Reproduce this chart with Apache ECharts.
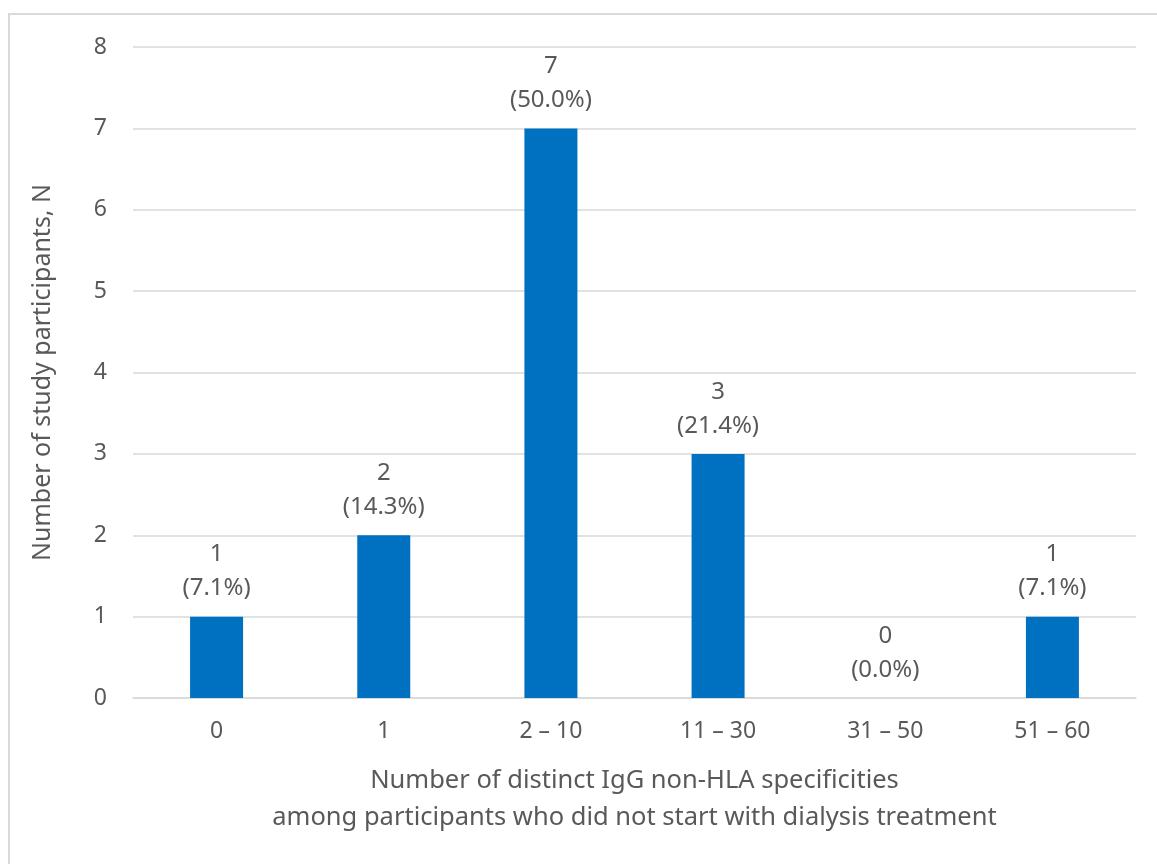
<!DOCTYPE html>
<html>
<head>
<meta charset="utf-8">
<script src="https://cdn.jsdelivr.net/npm/echarts@6/dist/echarts.min.js"></script>
<style>
  html, body { margin: 0; padding: 0; background: #fff; }
  #frame {
    position: absolute; left: 8px; top: 13px; width: 1160px; height: 860px;
    border-top: 2px solid #d9d9d9; border-left: 2px solid #d9d9d9;
  }
  #chart { position: absolute; left: 0; top: 0; width: 1157px; height: 864px; }
</style>
</head>
<body>
<div id="frame"></div>
<div id="chart"></div>
<script>
// participants per number-of-specificities bin
const categories = ['0', '1', '2 – 10', '11 – 30', '31 – 50', '51 – 60'];
const counts = [1, 2, 7, 3, 0, 1];
const percents = ['7.1%', '14.3%', '50.0%', '21.4%', '0.0%', '7.1%'];

const textColor = '#595959';
const gridColor = '#d9d9d9';
const font = 'Noto Sans';

const myChart = echarts.init(document.getElementById('chart'));

const option = {
  animation: false,
  grid: { left: 133, right: 21, top: 47, bottom: 166 },
  xAxis: {
    type: 'category',
    data: categories,
    axisLine: { lineStyle: { color: gridColor, width: 1.5 } },
    axisTick: { show: false },
    axisLabel: { color: textColor, fontSize: 23, fontFamily: font, margin: 22 },
    name: 'Number of distinct IgG non-HLA specificities\namong participants who did not start with dialysis treatment',
    nameLocation: 'middle',
    nameGap: 64,
    nameTextStyle: { color: textColor, fontSize: 25.5, fontFamily: font, lineHeight: 37 }
  },
  yAxis: {
    type: 'value',
    min: 0,
    max: 8,
    interval: 1,
    axisLine: { show: false },
    axisTick: { show: false },
    splitLine: { lineStyle: { color: gridColor, width: 1.5 } },
    axisLabel: { color: textColor, fontSize: 23, fontFamily: font, margin: 26 },
    name: 'Number of study participants, N',
    nameLocation: 'middle',
    nameGap: 78,
    nameTextStyle: { color: textColor, fontSize: 25, fontFamily: font }
  },
  series: [{
    type: 'bar',
    data: counts,
    barWidth: 53,
    itemStyle: { color: '#0070C0' },
    label: {
      show: true,
      position: 'top',
      distance: 11,
      color: textColor,
      fontSize: 24,
      fontFamily: font,
      lineHeight: 34,
      formatter: p => p.value + '\n(' + percents[p.dataIndex] + ')'
    }
  }]
};
myChart.setOption(option);
</script>
</body>
</html>
